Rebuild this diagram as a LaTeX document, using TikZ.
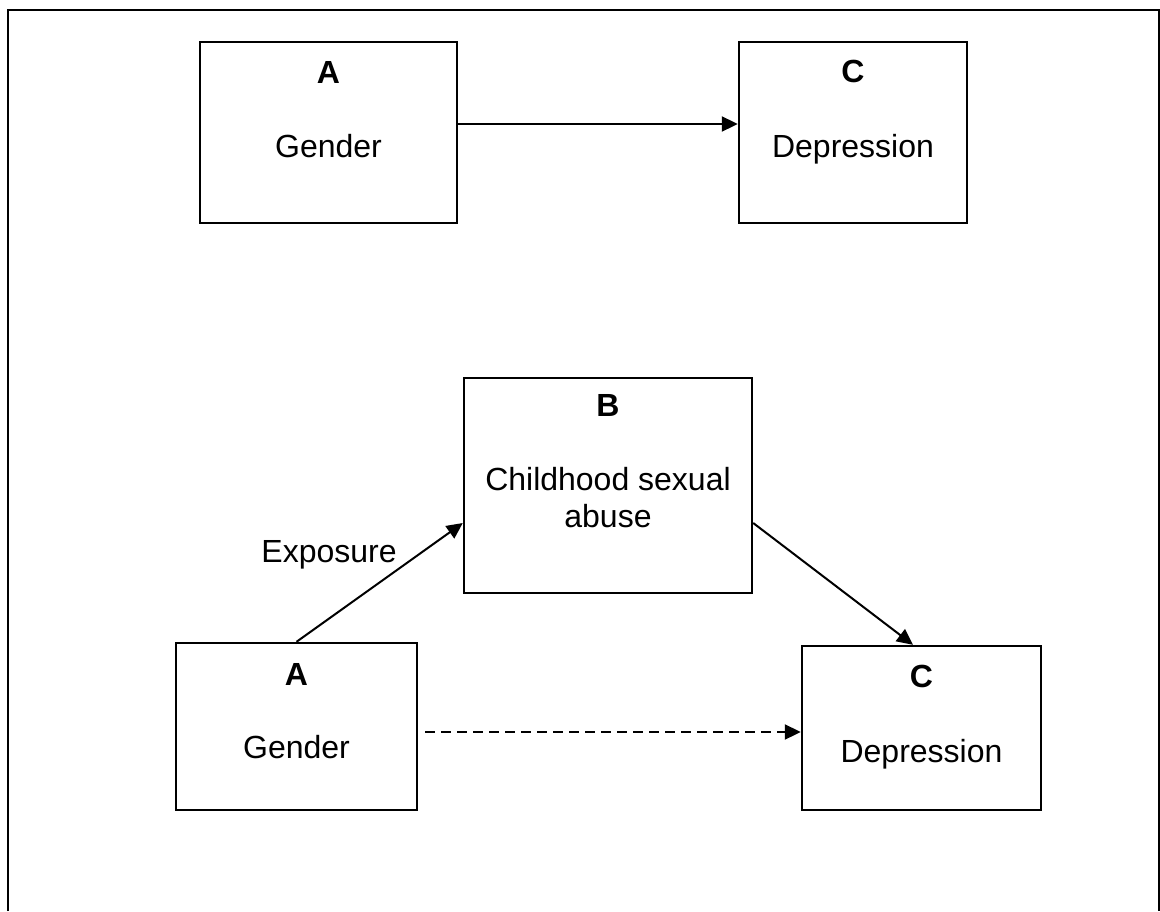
\documentclass[tikz,border=0pt]{standalone}
\usepackage{fontspec}
\setmainfont{Liberation Sans}
\usetikzlibrary{arrows.meta}
\begin{document}
\begin{tikzpicture}[x=1pt,y=-1pt,
  box/.style={draw, line width=2.4pt, inner sep=0pt},
  txt/.style={anchor=base, inner sep=0pt, font=\fontsize{32}{37}\selectfont},
  arr/.style={line width=2pt, -{Triangle[length=16pt,width=15pt]}},
  dsh/.style={arr, dash pattern=on 10pt off 6pt}]
\useasboundingbox (0,0) rectangle (1160,911);
\draw[line width=2.6pt] (8,911) -- (8,10) -- (1159,10) -- (1159,911);
% top row
\node[box, minimum width=257pt, minimum height=181pt] (tA) at (328.5,132.5) {};
\node[box, minimum width=228pt, minimum height=181pt] (tC) at (853,132.5) {};
\node[txt] (tAl) at (328.5,83) {\bfseries A};
\node[txt] (tAt) at (328.5,157) {Gender};
\node[txt] (tCl) at (853,82) {\bfseries C};
\node[txt] (tCt) at (853,157) {Depression};
\draw[arr] ([yshift=8.5pt]tA.east) -- ([yshift=8.5pt]tC.west);
% bottom
\node[box, minimum width=288pt, minimum height=215pt] (bB) at (608,485.5) {};
\node[box, minimum width=241pt, minimum height=167pt] (bA) at (296.5,726.5) {};
\node[box, minimum width=239pt, minimum height=164pt] (bC) at (921.5,728) {};
\node[txt] (bBl) at (608,416) {\bfseries B};
\node[txt] (bBt) at (608,490) {Childhood sexual};
\node[txt] (bBu) at (608,527) {abuse};
\node[txt] (bAl) at (296.5,685) {\bfseries A};
\node[txt] (bAt) at (296.5,758) {Gender};
\node[txt] (bCl) at (921.5,687) {\bfseries C};
\node[txt] (bCt) at (921.5,762) {Depression};
\node[txt] (exp) at (329,562) {Exposure};
\draw[arr] (bA.north) -- ([yshift=-37.5pt]bB.west);
\draw[arr] ([yshift=-37.5pt]bB.east) -- ([xshift=-8.5pt]bC.north);
\draw[dsh] ([xshift=7pt,yshift=-5.5pt]bA.east) -- ([yshift=-4pt]bC.west);
\end{tikzpicture}
\end{document}
